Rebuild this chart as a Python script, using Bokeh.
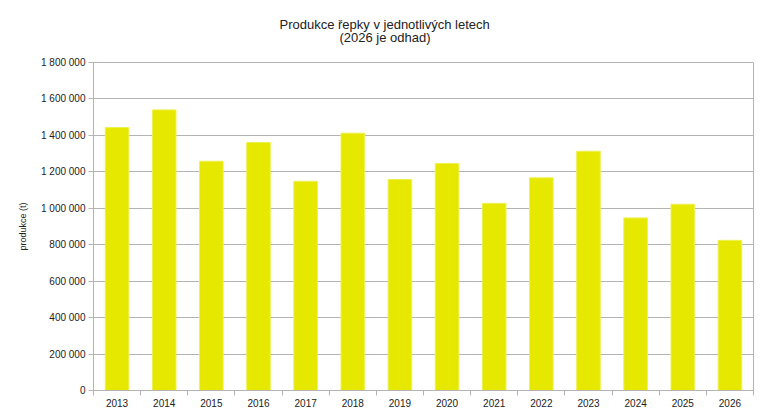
from bokeh.plotting import figure
from bokeh.models import FixedTicker, Range1d, ColumnDataSource, Title
from bokeh.embed import file_html
from bokeh.resources import INLINE

years = ["2013", "2014", "2015", "2016", "2017", "2018", "2019",
         "2020", "2021", "2022", "2023", "2024", "2025", "2026"]
production = [1443000, 1540000, 1258000, 1361000, 1148000, 1412000, 1158000,
              1246000, 1027000, 1167000, 1313000, 947000, 1022000, 824000]
y_ticks = [0, 200000, 400000, 600000, 800000, 1000000, 1200000, 1400000, 1600000, 1800000]
y_tick_labels = ["0", "200 000", "400 000", "600 000", "800 000", "1 000 000",
                 "1 200 000", "1 400 000", "1 600 000", "1 800 000"]
title_lines = ["Produkce řepky v jednotlivých letech", "(2026 je odhad)"]
y_label = "produkce (t)"

FONT = "Liberation Sans"
GRID = "#b3b3b3"
TEXT = "#222222"

pos = list(range(1, len(years) + 1))
bounds = [x - 0.5 for x in pos] + [pos[-1] + 0.5]
src = ColumnDataSource(dict(x=pos, top=production, year=years))

p = figure(width=760, height=409, output_backend="svg", toolbar_location=None,
           x_range=Range1d(bounds[0], bounds[-1]), y_range=Range1d(y_ticks[0], y_ticks[-1]),
           min_border_left=93, min_border_right=7, min_border_top=62, min_border_bottom=19)

p.vbar(x="x", top="top", width=0.5, source=src, fill_color="#e6e800",
       line_color="#eef050", line_width=1)

def style_title(t, offset, standoff):
    t.align = "left"
    t.text_font = FONT
    t.text_font_size = "13px"
    t.text_font_style = "normal"
    t.text_color = TEXT
    t.offset = offset
    t.standoff = standoff

p.title.text = title_lines[0]
style_title(p.title, 186, -44)
t2 = Title(text=title_lines[1])
style_title(t2, 246, 36)
p.add_layout(t2, "above")

p.outline_line_color = GRID
p.xgrid.visible = False
p.ygrid.grid_line_color = GRID
p.ygrid.ticker = FixedTicker(ticks=y_ticks)

xa = p.xaxis[0]
xa.ticker = FixedTicker(ticks=pos, minor_ticks=bounds)
xa.major_label_overrides = {x: y for x, y in zip(pos, years)}
xa.major_tick_out = 0
xa.major_tick_in = 0
xa.minor_tick_out = 5
xa.minor_tick_in = 0
xa.minor_tick_line_color = GRID
xa.axis_line_color = GRID
xa.major_label_text_font = FONT
xa.major_label_text_font_size = "10px"
xa.major_label_text_color = TEXT
xa.major_label_standoff = 3

ya = p.yaxis[0]
ya.ticker = FixedTicker(ticks=y_ticks)
ya.major_label_overrides = {t: l for t, l in zip(y_ticks, y_tick_labels)}
ya.major_tick_out = 5
ya.major_tick_in = 0
ya.major_tick_line_color = GRID
ya.minor_tick_line_color = None
ya.axis_line_color = GRID
ya.major_label_text_font = FONT
ya.major_label_text_font_size = "10px"
ya.major_label_text_color = TEXT
ya.major_label_standoff = 3
ya.axis_label = y_label
ya.axis_label_text_font = FONT
ya.axis_label_text_font_size = "9px"
ya.axis_label_text_font_style = "normal"
ya.axis_label_text_color = TEXT
ya.axis_label_standoff = 10

open("out.html", "w").write(file_html(p, INLINE))
